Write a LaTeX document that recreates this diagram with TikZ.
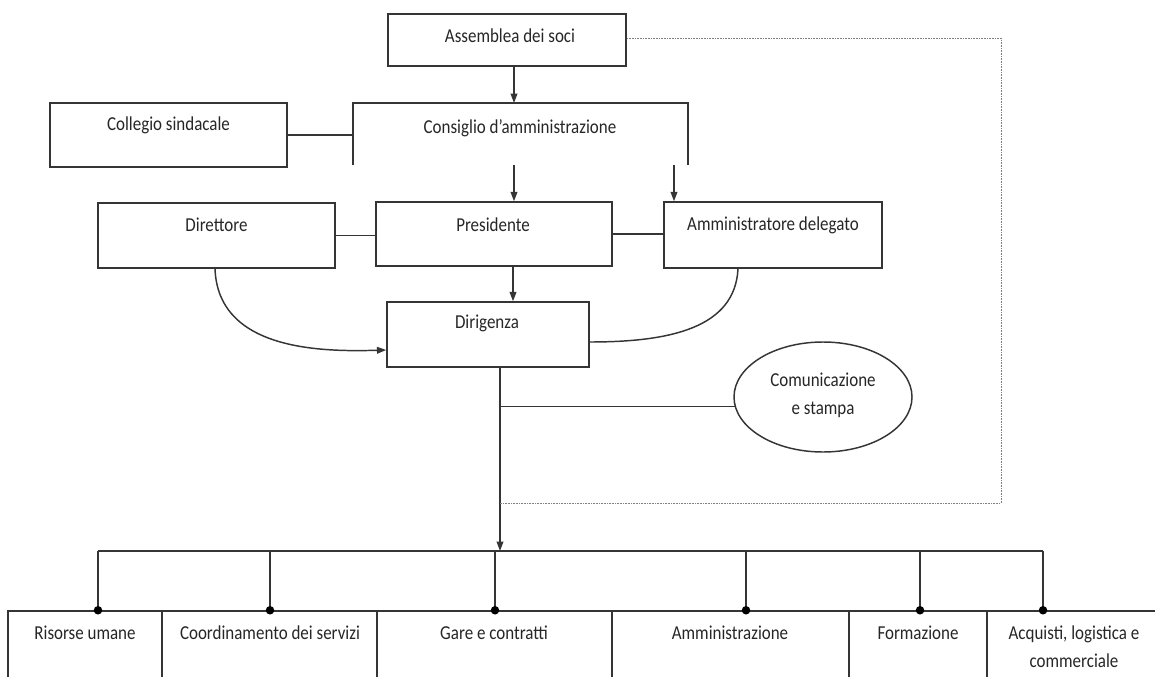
\documentclass[tikz,border=0pt]{standalone}
\usepackage{fontspec}
\setmainfont{Carlito}[FakeStretch=0.86]
\usetikzlibrary{shapes.geometric,arrows.meta}
\definecolor{ln}{HTML}{353535}
\definecolor{tx}{HTML}{262626}
\tikzset{
  box/.style 2 args={draw=ln, line width=1.1pt, rectangle, inner sep=0pt,
    minimum width=#1*0.75pt, minimum height=#2*0.75pt},
  lbl/.style={text=tx, font=\fontsize{14.8}{17}\selectfont, inner sep=0pt, align=center},
  conn/.style={draw=ln, line width=1.1pt},
  arr/.style={conn, -{Triangle[length=7pt,width=5pt]}},
  dotted line/.style={draw=gray, line width=0.6pt, dash pattern=on 1.2pt off 0.8pt},
}
\begin{document}
\begin{tikzpicture}[x=0.75pt,y=-0.75pt]
\useasboundingbox (0,0) rectangle (1155,677);
\clip (0,0) rectangle (1155,677);

% top boxes
\node[box={238}{52}] (ass) at (507,40) {};
\node[lbl] (assT) at (510,36) {Assemblea dei soci};

\node[box={237}{64}] (col) at (168.5,135) {};
\node[lbl] (colT) at (168.5,125) {Collegio sindacale};

\coordinate (cTL) at (353,103);
\coordinate (cTR) at (688,103);
\coordinate (cBL) at (353,165);
\coordinate (cBR) at (688,165);
\coordinate (cTop) at (514,103);
\node[lbl] (cons) at (520,128) {Consiglio d’amministrazione};

\node[box={237}{65}] (dirt) at (216.5,235.5) {};
\node[lbl] (dirtT) at (216.5,225) {Direttore};

\node[box={236}{64}] (pres) at (494,234) {};
\node[lbl] (presT) at (493,225) {Presidente};

\node[box={218}{66}] (amm) at (773,235) {};
\node[lbl] (ammT) at (773,225) {Amministratore delegato};

\node[box={202}{65}] (dirg) at (488,334.5) {};
\node[lbl] (dirgT) at (487,323) {Dirigenza};

\node[draw=ln, line width=1.1pt, ellipse, inner sep=0pt,
  minimum width=178*0.75pt, minimum height=110*0.75pt] (com) at (823,397) {};
\node[lbl] (comT) at (823,395) {Comunicazione\\[4pt]e stampa};

% bottom boxes
\node[box={154}{120}] (rh) at (85,671) {};
\node[lbl] (rhT) at (85,633) {Risorse umane};
\node[box={215}{120}] (cs) at (269.5,671) {};
\node[lbl] (csT) at (270,633) {Coordinamento dei servizi};
\node[box={235}{120}] (gc) at (494.5,671) {};
\node[lbl] (gcT) at (494,633) {Gare e contratti};
\node[box={237}{120}] (am) at (730.5,671) {};
\node[lbl] (amT) at (730,633) {Amministrazione};
\node[box={138}{120}] (fo) at (918,671) {};
\node[lbl] (foT) at (918,633) {Formazione};
\node[box={200}{120}] (ac) at (1087,671) {};
\node[lbl] (acT) at (1074,647) {Acquisti, logistica e\\[4pt]commerciale};

% connectors
\draw[arr] (514,0 |- ass.south) -- (cTop);
\draw[conn] (cBL) -- (cTL) -- (cTR) -- (cBR);
\draw[conn] (col.east) -- (cBL |- col.east);
\draw[arr] (514,165) -- (514,0 |- pres.north);
\draw[arr] (674,165) -- (674,0 |- amm.north);
\draw[conn] (dirt.east) -- (pres.west |- dirt.east);
\draw[conn] (pres.east) -- (amm.west |- pres.east);
\draw[arr] (513,0 |- pres.south) -- (513,0 |- dirg.north);
\draw[arr] (215,0 |- dirt.south) .. controls (218,350) and (320,352) .. (dirg.west |- 0,350);
\draw[conn] (738,0 |- amm.south) .. controls (735,328) and (670,342) .. (dirg.east |- 0,342);
\coordinate (bus) at (500,551);
\draw[arr] (500,0 |- dirg.south) -- (bus);
\draw[conn] (500,0 |- com.186) -- (com.186);

% dotted feedback
\draw[dotted line] (ass.east |- 0,38) -- (1001,38) -- (1001,503) -- (500,503);

% bus and drops
\draw[conn] (98,551) -- (1043,551);
\foreach \xx/\bb in {98/rh,270/cs,495/gc,746/am,920/fo,1043/ac}{
  \draw[conn] (\xx,551) -- (\xx,0 |- \bb.north);
  \fill[black] (\xx,0 |- \bb.north) circle (3.2pt);
}
\end{tikzpicture}
\end{document}
